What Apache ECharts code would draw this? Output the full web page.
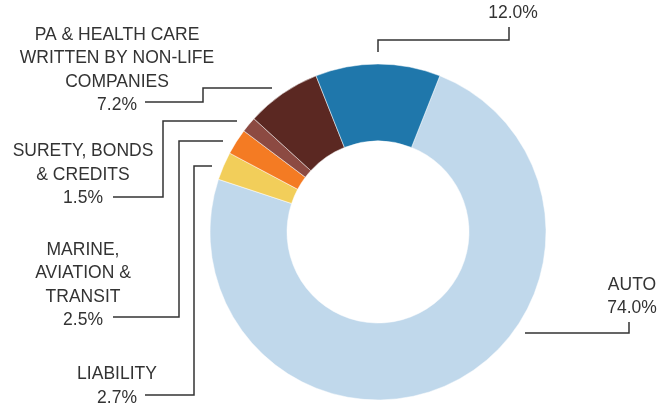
<!DOCTYPE html>
<html><head><meta charset="utf-8">
<script src="https://cdn.jsdelivr.net/npm/echarts@6.0.0/dist/echarts.min.js"></script>
<style>html,body{margin:0;padding:0;background:#fff}#chart{width:658px;height:403px}</style>
</head><body><div id="chart"></div>
<script>
const categories = ['AUTO', 'LIABILITY', 'MARINE, AVIATION & TRANSIT', 'SURETY, BONDS & CREDITS', 'PA & HEALTH CARE WRITTEN BY NON-LIFE COMPANIES', 'OTHER'];
const labelNames = ['AUTO', 'LIABILITY', 'MARINE,\nAVIATION &\nTRANSIT', 'SURETY, BONDS\n& CREDITS', 'PA & HEALTH CARE\nWRITTEN BY NON-LIFE\nCOMPANIES', ''];
const shares = [74.0, 2.7, 2.5, 1.5, 7.2, 12.0];
const colors = ['#c0d8eb', '#f2ce5a', '#f47b23', '#8c4a42', '#5b2822', '#1f77ab'];

// layout (not data): label anchors (center x, bottom y) and leader line paths
const labelAnchors = [[632, 320], [117, 409.5], [83, 332], [83, 210], [117, 117], [513, 25]];
const leaderLines = [
  [[525, 333], [629, 333], [629, 322]],
  [[212, 166], [194, 166], [194, 395], [145, 395]],
  [[223, 141], [179, 141], [179, 317], [113, 317]],
  [[237, 121], [163, 121], [163, 197], [113, 197]],
  [[272, 88], [203, 88], [203, 102], [145, 102]],
  [[378, 52], [378, 40], [509, 40], [509, 27]]
];

const chart = echarts.init(document.getElementById('chart'), null, {renderer: 'canvas'});
const data = categories.map((c, i) => ({
  name: c,
  value: shares[i],
  itemStyle: {color: colors[i]}
}));

chart.setOption({
  animation: false,
  backgroundColor: '#fff',
  series: [{
    type: 'pie',
    center: [378, 232],
    radius: [91, 168],
    startAngle: 68.4,
    clockwise: true,
    avoidLabelOverlap: false,
    silent: true,
    itemStyle: {borderColor: '#ffffff', borderWidth: 0.5},
    label: {
      show: true,
      position: 'outside',
      color: '#333',
      fontFamily: '"Liberation Sans", Arial, sans-serif',
      fontSize: 17.5,
      lineHeight: 23.5,
      align: 'center',
      formatter: function (p) {
        const n = labelNames[p.dataIndex];
        const v = shares[p.dataIndex].toFixed(1) + '%';
        return n ? n + '\n' + v : v;
      }
    },
    labelLine: {show: false},
    labelLayout: function (p) {
      const a = labelAnchors[p.dataIndex];
      return {x: a[0], y: a[1], align: 'center', verticalAlign: 'bottom'};
    },
    data: data
  }],
  graphic: leaderLines.map(pts => ({
    type: 'polyline',
    shape: {points: pts},
    style: {stroke: '#333', lineWidth: 1.5, fill: null},
    silent: true
  }))
});
</script>
</body></html>
